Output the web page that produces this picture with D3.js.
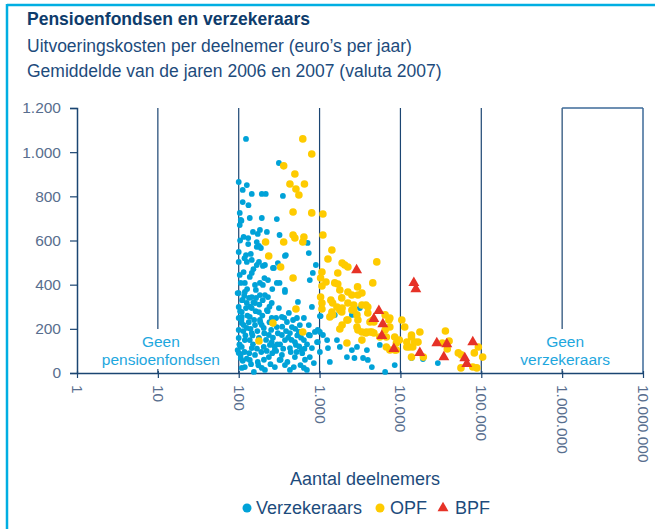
<!DOCTYPE html>
<html><head><meta charset="utf-8">
<script src="https://cdn.jsdelivr.net/npm/d3@7"></script>
<style>
html,body{margin:0;padding:0;background:#fff;}
svg{display:block;font-family:"Liberation Sans", Arial, sans-serif;}
</style></head><body>
<svg id="chart" width="655" height="529"></svg>
<script>
const titleText = "Pensioenfondsen en verzekeraars";
const subtitleLines = ["Uitvoeringskosten per deelnemer (euro\u2019s per jaar)", "Gemiddelde van de jaren 2006 en 2007 (valuta 2007)"];
const xAxisTitle = "Aantal deelnemers";
const xTickValues = [1, 10, 100, 1000, 10000, 100000, 1000000, 10000000];
const yTickValues = [0, 200, 400, 600, 800, 1000, 1200];
const gridValues = [10, 100, 1000, 10000, 100000, 1000000];
const seriesNames = ["Verzekeraars", "OPF", "BPF"];
const regionLabels = [
  {at: 10, lines: ["Geen", "pensioenfondsen"]},
  {at: 1000000, lines: ["Geen", "verzekeraars"]}
];

// [aantal deelnemers, kosten per deelnemer]
const verzekeraars = [
 [123,1060],[100,865],[126,851],[112,829],[145,811],[193,811],[216,811],[314,951],[352,802],[112,774],
 [103,725],[137,702],[193,702],[296,697],[106,693],[103,670],[115,616],[150,639],[183,648],[223,639],
 [131,611],[167,593],[167,571],[188,566],[320,625],[711,589],[100,548],[123,534],[100,503],[141,539],
 [178,503],[199,485],[305,498],[265,476],[383,534],[900,489],[103,444],[145,453],[119,408],[159,399],
 [199,399],[296,408],[373,376],[757,421],[825,453],[97,362],[134,340],[183,353],[230,344],[540,322],
 [804,299],[1030,258],[172,630],[131,584],[178,575],[736,543],[126,503],[145,512],[167,489],[211,489],
 [272,476],[373,530],[115,457],[137,435],[183,408],[320,408],[373,367],[100,362],[119,367],[211,353],
 [145,344],[126,317],[159,317],[256,317],[100,299],[109,276],[145,294],[178,276],[223,285],[314,294],
 [417,272],[525,249],[109,254],[137,254],[183,240],[256,249],[342,254],[395,231],[455,208],[640,249],
 [736,217],[109,226],[126,204],[159,217],[204,204],[296,208],[100,195],[145,181],[236,172],[342,172],
 [430,181],[555,186],[736,172],[875,186],[100,159],[119,149],[178,159],[256,140],[373,149],[495,140],
 [640,149],[930,140],[109,118],[145,113],[204,118],[280,104],[430,113],[600,104],[804,113],[100,91],
 [159,82],[236,72],[342,82],[495,72],[757,72],[119,27],[193,23],[280,27],[373,36],[480,27],
 [640,23],[850,45],[154,5],[109,23],[697,14],[1009,186],[1100,172],[950,140],[1240,149],[1270,113],
 [1009,95],[1340,50],[1640,149],[1780,118],[2180,72],[2510,104],[2900,118],[3850,104],[3450,68],[3950,59],
 [4430,27],[2700,68],[5560,127],[6470,5],[8500,36],[1540,263],[2510,263],[3150,294],[1009,258],[950,195],
 [29000,45],[13700,68],[19000,63],[100,249],[115,217],[103,127],[137,59],[172,50],[211,14],[106,408],
 [112,331],[163,376],[230,421],[123,294],[193,217],[243,127],[320,59],[580,36],[430,14],[97,104],
 [106,68],[137,149],[290,249],[570,217],[510,127],
 [104,280],[108,240],[114,190],[121,170],[128,260],[133,230],[140,200],[148,170],[155,240],[162,280],
 [170,190],[176,150],[185,230],[196,260],[207,180],[218,150],[228,280],[240,230],[252,195],[265,160],
 [278,120],[290,100],[305,180],[325,130],[345,210],[365,250],[385,190],[410,160],[440,95],[470,240],
 [500,200],[530,170],[560,120],[610,90],[660,60],[700,130],[760,170],[102,130],[106,85],[112,55],
 [118,95],[126,65],[135,90],[142,40],[150,130],[168,110],[175,35],[190,95],[205,60],[222,100],
 [247,40],[260,90],[300,130],[330,60],[355,110],[400,50],[450,150],[520,95],[590,160],[650,110],
 [110,330],[117,350],[127,380],[139,300],[152,320],[164,340],[180,310],[198,330],[240,300],[260,380],
 [208,430],[152,470],[118,520],[104,600],[132,760],[108,690]
];
const opf = [
 [620,1060],[800,992],[360,938],[495,901],[430,856],[650,856],[510,833],[555,806],[470,729],[800,725],
 [1100,720],[470,625],[495,611],[640,616],[620,593],[360,593],[1100,625],[215,593],[235,530],[330,480],
 [470,430],[1030,430],[1270,516],[1200,412],[1070,394],[510,290],[1030,344],[1070,317],[1070,290],[265,226],
 [620,186],[178,145],[1420,557],[2050,489],[2240,480],[1680,453],[5100,503],[1540,408],[1680,403],[4550,408],
 [2240,367],[2510,353],[1780,376],[1880,340],[2980,353],[3340,362],[1450,317],[2240,317],[2650,308],[3740,308],
 [3950,299],[1420,276],[1780,285],[2510,285],[2900,263],[1340,254],[2240,240],[3950,272],[4200,231],[4700,231],
 [7400,249],[7400,208],[10400,240],[11300,208],[1780,199],[2900,208],[3340,186],[3740,181],[4200,186],[4700,181],
 [5560,163],[6700,163],[8500,163],[8900,136],[12000,140],[13700,163],[2180,136],[3340,149],[7400,104],[8500,104],
 [13700,72],[12000,118],[13700,172],[17400,186],[15000,140],[16500,140],[12900,118],[36000,190],[40000,145],[33000,136],
 [38000,109],[19200,72],[52000,91],[56700,82],[82000,91],[92000,118],[104000,72],[56000,23],[78500,27],[88000,23],
 [1900,498],[2950,390],[1640,299],[1900,294],[1880,276],[2650,285],[3340,308],[1450,263],[2180,240],[1900,217],
 [2980,240],[4550,240],[6470,263],[7200,240],[2980,195],[3800,186],[4430,186],[6470,195],[6700,118],[8900,104],
 [9700,149],[14200,118],[1070,457],[1380,330]
];
const bpf = [
 [2870,466],[14650,408],[15500,380],[5410,281],[4690,245],[6060,222],[5890,168],[8290,109],[17380,91],[28180,136],
 [37480,131],[34400,72],[78500,140],[62500,68],[66200,41]
];

const colors = {Verzekeraars: "#00a2d8", OPF: "#fecb00", BPF: "#e63227"};
const axisColor = "#1b4572";
const tickTextColor = "#586e8e";
const textColor = "#1d4b7c";
const labelColor = "#1ea7de";

const nl = d3.formatLocale({decimal: ",", thousands: ".", grouping: [3], currency: ["\u20ac", ""]});
const fmt = nl.format(",");

const svg = d3.select("#chart");
const W = 655, H = 529;
const margin = {left: 77, right: 12, top: 108, bottom: 156};

const x = d3.scaleLog().domain([1, 1e7]).range([margin.left, W - margin.right]);
const y = d3.scaleLinear().domain([0, 1200]).range([H - margin.bottom, margin.top]);

// outer frame
svg.append("line").attr("x1", 7).attr("x2", W).attr("y1", 5).attr("y2", 5)
  .attr("stroke", "#00aee2").attr("stroke-width", 2.5);
svg.append("line").attr("x1", 7).attr("x2", 7).attr("y1", 4).attr("y2", H)
  .attr("stroke", "#00aee2").attr("stroke-width", 2.5);

// titles
svg.append("text").attr("x", 27).attr("y", 25).text(titleText)
  .attr("font-size", 17.5).attr("font-weight", "bold").attr("fill", "#0e3c6c");
subtitleLines.forEach((t, i) => {
  svg.append("text").attr("x", 27).attr("y", 52 + i * 25).text(t)
    .attr("font-size", 17.5).attr("fill", textColor);
});

// grid lines
svg.append("g").selectAll("line").data(gridValues).join("line")
  .attr("x1", d => x(d)).attr("x2", d => x(d))
  .attr("y1", y(1200)).attr("y2", y(0))
  .attr("stroke", axisColor).attr("stroke-width", 1.2);

// right border and top piece
svg.append("line").attr("x1", x(1e7)).attr("x2", x(1e7)).attr("y1", y(1200)).attr("y2", y(0))
  .attr("stroke", "#3d6a98").attr("stroke-width", 1.5);
svg.append("line").attr("x1", x(1e6)).attr("x2", x(1e7)).attr("y1", y(1200)).attr("y2", y(1200))
  .attr("stroke", "#3d6a98").attr("stroke-width", 1.5);

// region labels with white background
regionLabels.forEach(r => {
  const cx = x(r.at) + 3;
  svg.append("rect").attr("x", cx - 62).attr("y", y(0) - 44).attr("width", 124).attr("height", 40).attr("fill", "#fff");
  r.lines.forEach((t, i) => {
    svg.append("text").attr("x", cx).attr("y", y(0) - 26 + i * 18).attr("text-anchor", "middle")
      .attr("font-size", 15.5).attr("fill", labelColor).text(t);
  });
});

// y axis
const gy = svg.append("g").attr("transform", `translate(${x(1)},0)`)
  .call(d3.axisLeft(y).tickValues(yTickValues).tickFormat(fmt).tickSize(7).tickPadding(9));
gy.select(".domain").attr("stroke", axisColor).attr("stroke-width", 1.5);
gy.selectAll(".tick line").attr("stroke", axisColor).attr("stroke-width", 1.2);
gy.selectAll(".tick text").attr("font-size", 15.5).attr("fill", tickTextColor)
  .attr("font-family", "Liberation Sans, Arial, sans-serif");

// x axis
const gx = svg.append("g").attr("transform", `translate(0,${y(0)})`)
  .call(d3.axisBottom(x).tickValues(xTickValues).tickFormat(fmt).tickSize(5).tickSizeOuter(0));
gx.select(".domain").attr("stroke", axisColor).attr("stroke-width", 1.5);
gx.selectAll(".tick line").attr("stroke", axisColor).attr("stroke-width", 1.2).attr("y1", -2);
gx.selectAll(".tick text").attr("font-size", 15.5).attr("fill", tickTextColor)
  .attr("font-family", "Liberation Sans, Arial, sans-serif")
  .attr("transform", "rotate(90)").attr("text-anchor", "start")
  .attr("x", 12).attr("y", 0).attr("dy", "0.35em");

// points
const tri = d3.symbol().type(d3.symbolTriangle).size(52);
svg.append("g").selectAll("circle").data(verzekeraars).join("circle")
  .attr("cx", d => x(d[0])).attr("cy", d => y(d[1])).attr("r", 2.9).attr("fill", colors.Verzekeraars);
svg.append("g").selectAll("circle").data(opf).join("circle")
  .attr("cx", d => x(d[0])).attr("cy", d => y(d[1])).attr("r", 3.8).attr("fill", colors.OPF);
svg.append("g").selectAll("path").data(bpf).join("path")
  .attr("transform", d => `translate(${x(d[0])},${y(d[1])})`).attr("d", tri).attr("fill", colors.BPF);

// axis title
svg.append("text").attr("x", 365).attr("y", 485).attr("text-anchor", "middle")
  .attr("font-size", 18).attr("fill", textColor).text(xAxisTitle);

// legend
const legendItems = [
  {name: seriesNames[0], sx: 247, tx: 256},
  {name: seriesNames[1], sx: 380, tx: 390},
  {name: seriesNames[2], sx: 443, tx: 455}
];
legendItems.forEach(it => {
  if (it.name === "BPF") {
    svg.append("path").attr("transform", `translate(${it.sx},508)`).attr("d", tri).attr("fill", colors.BPF);
  } else {
    svg.append("circle").attr("cx", it.sx).attr("cy", 508).attr("r", 4.5).attr("fill", colors[it.name]);
  }
  svg.append("text").attr("x", it.tx).attr("y", 514).attr("font-size", 18).attr("fill", textColor).text(it.name);
});
</script>
</body></html>
